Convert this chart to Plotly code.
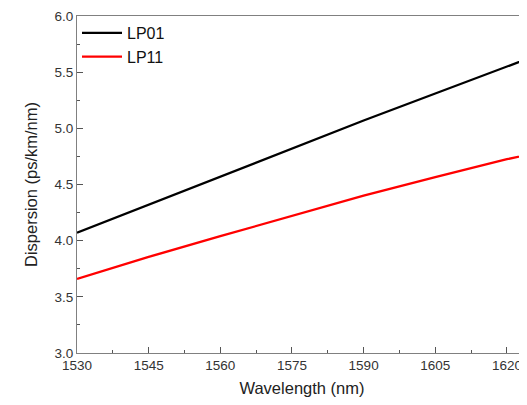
import plotly.graph_objects as go

wavelength = [1530, 1545, 1560, 1575, 1590, 1605, 1620, 1625]
lp01 = [4.07, 4.32, 4.57, 4.82, 5.07, 5.31, 5.55, 5.63]
lp11 = [3.66, 3.855, 4.04, 4.22, 4.40, 4.565, 4.725, 4.77]

x_ticks = [1530, 1545, 1560, 1575, 1590, 1605, 1620]
y_ticks = [3.0, 3.5, 4.0, 4.5, 5.0, 5.5, 6.0]

fig = go.Figure()
fig.add_trace(go.Scatter(x=wavelength, y=lp01, mode="lines", name="LP01",
                         line=dict(color="black", width=2.3)))
fig.add_trace(go.Scatter(x=wavelength, y=lp11, mode="lines", name="LP11",
                         line=dict(color="#ff0000", width=2.3)))

axis_font = dict(family="Liberation Sans, Arial, sans-serif", size=13.5, color="#333333")
# page body has an 8px default margin, so the figure is sized to fill the rest of the window
fig.update_layout(
    width=519, height=389,
    margin=dict(l=69, r=0, t=8, b=44),
    plot_bgcolor="white", paper_bgcolor="white",
    font=dict(family="Liberation Sans, Arial, sans-serif", color="#333333"),
    showlegend=True,
    legend=dict(x=0.0, y=1.0, xanchor="left", yanchor="top",
                bgcolor="rgba(0,0,0,0)", font=dict(size=16, color="#111111"),
                tracegroupgap=0, itemwidth=40),
    xaxis=dict(range=[1530, 1624.2], tickvals=x_ticks, ticktext=[str(v) for v in x_ticks],
               showgrid=False, zeroline=False, showline=True, linecolor="#808080",
               linewidth=1.2, mirror=True, ticks="inside", ticklen=6, tickcolor="#555555",
               tickfont=axis_font,
               minor=dict(dtick=7.5, tick0=1530, ticks="inside", ticklen=3, tickcolor="#555555"),
               title=dict(text="Wavelength (nm)", font=dict(size=16.5, color="#222222"), standoff=10)),
    yaxis=dict(range=[3.0, 6.0], tickvals=y_ticks, ticktext=[f"{v:.1f}" for v in y_ticks],
               showgrid=False, zeroline=False, showline=True, linecolor="#808080",
               linewidth=1.2, mirror=False, ticks="inside", ticklen=6, tickcolor="#555555",
               tickfont=axis_font,
               minor=dict(dtick=0.25, tick0=3.0, ticks="inside", ticklen=3, tickcolor="#555555"),
               title=dict(text="Dispersion (ps/km/nm)", font=dict(size=16.5, color="#222222"), standoff=12)),
)
fig.write_html("out.html")
